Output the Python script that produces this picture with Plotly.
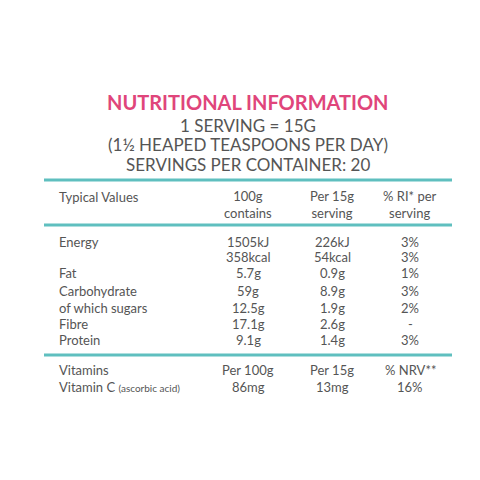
import plotly.graph_objects as go

# table content
title = 'NUTRITIONAL INFORMATION'
subtitles = ['1 SERVING = 15G', '(1½ HEAPED TEASPOONS PER DAY)', 'SERVINGS PER CONTAINER: 20']
header = ['Typical Values', '100g<br>contains', 'Per 15g<br>serving', '% RI* per<br>serving']
labels = ['Energy', '', 'Fat', 'Carbohydrate', 'of which sugars', 'Fibre', 'Protein']
per100 = ['1505kJ', '358kcal', '5.7g', '59g', '12.5g', '17.1g', '9.1g']
per15 = ['226kJ', '54kcal', '0.9g', '8.9g', '1.9g', '2.6g', '1.4g']
ri = ['3%', '3%', '1%', '3%', '2%', '-', '3%']
vit_header = ['Vitamins', 'Per 100g', 'Per 15g', '% NRV**']
vit_row = ['Vitamin C <span style="font-size:10px">(ascorbic acid)</span>', '86mg', '13mg', '16%']

grey = '#555555'
teal = '#5fbfbf'
pink = '#e0457b'
font = 'Lato'
col_x = [49, 240, 324, 402]
row_y = [234, 249, 265, 283, 300, 316, 332]

fig = go.Figure()
ann = []
ann.append(dict(x=240, y=94, text='<b>' + title + '</b>', font=dict(size=20, color=pink, family=font)))
for y, s in zip([117, 136, 156], subtitles):
    ann.append(dict(x=240, y=y, text=s, font=dict(size=17, color=grey, family=font)))


def add_row(cells, y):
    for i, (x, t) in enumerate(zip(col_x, cells)):
        ann.append(dict(x=x, y=y, text=t, xanchor='left' if i == 0 else 'center',
                        font=dict(size=13, color=grey, family=font)))


for i, (x, t) in enumerate(zip(col_x, header)):
    ann.append(dict(x=x, y=189 if i == 0 else 196, text=t, xanchor='left' if i == 0 else 'center',
                    font=dict(size=13, color=grey, family=font)))
for y, row in zip(row_y, zip(labels, per100, per15, ri)):
    add_row(row, y)
add_row(vit_header, 362)
add_row(vit_row, 379)

for a in ann:
    a.update(xref='x', yref='y', showarrow=False, yanchor='middle')

shapes = [dict(type='line', x0=36, x1=444, y0=y, y1=y, xref='x', yref='y',
               line=dict(color=teal, width=3)) for y in [172, 217, 347]]

fig.update_layout(width=480, height=480, margin=dict(l=0, r=0, t=0, b=0),
                  paper_bgcolor='white', plot_bgcolor='white',
                  annotations=ann, shapes=shapes,
                  xaxis=dict(range=[0, 480], visible=False, fixedrange=True),
                  yaxis=dict(range=[480, 0], visible=False, fixedrange=True))
fig.write_html('out.html')
